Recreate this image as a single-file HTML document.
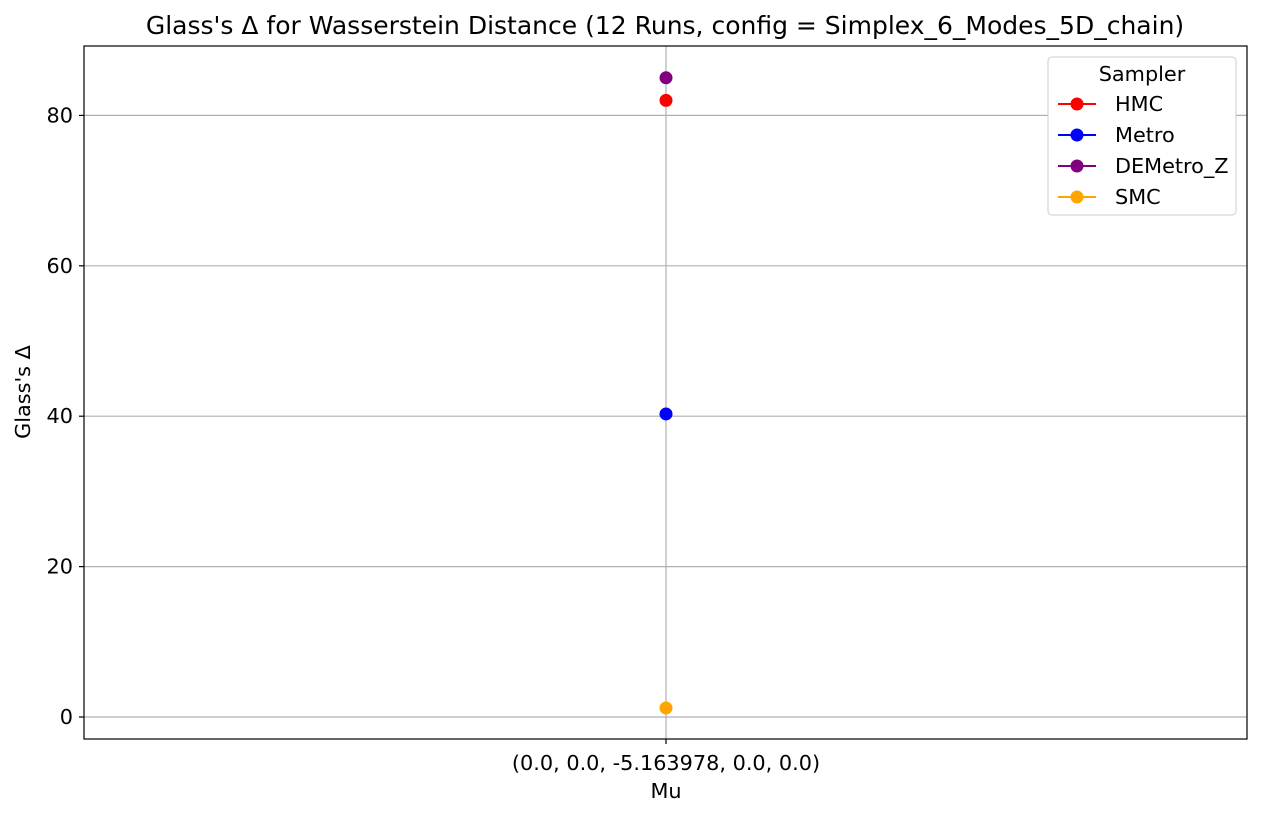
<!DOCTYPE html>
<html><head><meta charset="utf-8"><style>
body{margin:0;background:#fff;font-family:"Liberation Sans","DejaVu Sans",sans-serif;}
</style></head><body>
<svg width="1261" height="817" xmlns="http://www.w3.org/2000/svg" font-family="DejaVu Sans, Liberation Sans, sans-serif">
<text x="665" y="34" font-size="25" text-anchor="middle">Glass's Δ for Wasserstein Distance (12 Runs, config = Simplex_6_Modes_5D_chain)</text>
<g id="grid"></g>
<g id="marks"></g>
<rect x="84" y="46" width="1163" height="693" fill="none" stroke="#000" stroke-width="1.2"/>
<g id="axes"></g>
<text x="666" y="798" font-size="20.8" text-anchor="middle">Mu</text>
<text transform="translate(30,392) rotate(-90)" font-size="20.8" text-anchor="middle">Glass's Δ</text>
<g id="legend">
<rect x="1048" y="57" width="188" height="158" rx="4" fill="#fff" stroke="#ccc"/>
<text x="1142" y="81" font-size="20.8" text-anchor="middle">Sampler</text>
</g>
</svg>
<script>
const categories=["(0.0, 0.0, -5.163978, 0.0, 0.0)"];
const samplers=["HMC","Metro","DEMetro_Z","SMC"];
const colors=["red","blue","purple","orange"];
const hmc=[82.0];
const metro=[40.3];
const demetro=[85.0];
const smc=[1.2];
const yTicks=[0,20,40,60,80];
const series=[hmc,metro,demetro,smc];
const NS="http://www.w3.org/2000/svg";
const y0=717,pxPer=7.52;
function yS(v){return y0-v*pxPer;}
function xS(i){return 666+(i-(categories.length-1)/2)*200;}
function mk(t,a,p){const e=document.createElementNS(NS,t);for(const k in a)e.setAttribute(k,a[k]);p.appendChild(e);return e;}
const grid=document.getElementById('grid'),axes=document.getElementById('axes'),marks=document.getElementById('marks'),leg=document.getElementById('legend');
yTicks.forEach(v=>{
 const g=mk('line',{x1:84,x2:1247,y1:yS(v),y2:yS(v),stroke:'#b0b0b0','stroke-width':1.2},grid);
 
 
 const t=mk('line',{x1:79,x2:84,y1:yS(v),y2:yS(v),stroke:'#000','stroke-width':1.2},axes);
 
 
 const l=mk('text',{x:73,y:yS(v)+7,'font-size':20.8,'text-anchor':'end'},axes);l.textContent=v;
 
 
});
categories.forEach((c,i)=>{
 const g=mk('line',{x1:xS(i),x2:xS(i),y1:46,y2:739,stroke:'#b0b0b0','stroke-width':1.2},grid);
 
 
 const t=mk('line',{x1:xS(i),x2:xS(i),y1:739,y2:744,stroke:'#000','stroke-width':1.2},axes);
 
 
 const l=mk('text',{x:xS(i),y:770,'font-size':20.8,'text-anchor':'middle'},axes);l.textContent=c;
 
 
});
series.forEach((s,k)=>{
 s.forEach((v,i)=>{
  const p=mk('circle',{cx:xS(i),cy:yS(v),r:6.5,fill:colors[k]},marks);
  
  
 });
 const ly=104+k*31;
 const ln=mk('line',{x1:1058,x2:1096,y1:ly,y2:ly,stroke:colors[k],'stroke-width':2},leg);
 
 
 const lc=mk('circle',{cx:1077,cy:ly,r:6.5,fill:colors[k]},leg);
 
 
 const lt=mk('text',{x:1115,y:ly+7,'font-size':20.8},leg);lt.textContent=samplers[k];
 
 
});
</script>
</body></html>
